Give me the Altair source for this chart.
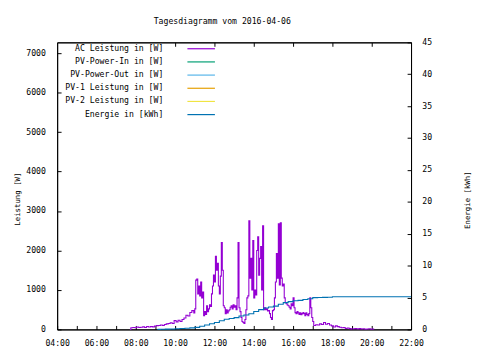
import altair as alt
import pandas as pd

# ---- data -------------------------------------------------------------
ac_times = ["07:42","07:45","07:51","07:57","08:03","08:09","08:15","08:21","08:27","08:33",
            "08:39","08:45","08:51","08:57","09:03","09:09","09:15","09:21","09:27","09:33",
            "09:39","09:45","09:51","09:57","10:03","10:09","10:15","10:21","10:27","10:33",
            "10:39","10:45","10:51","10:57","11:00","11:03","11:06","11:09","11:12","11:15",
            "11:18","11:21","11:24","11:27","11:30","11:33","11:36","11:39","11:42","11:45",
            "11:48","11:51","11:54","11:57","12:00","12:03","12:06","12:09","12:12","12:15",
            "12:18","12:21","12:24","12:27","12:30","12:33","12:36","12:39","12:42","12:45",
            "12:48","12:51","12:54","12:57","13:00","13:03","13:06","13:09","13:12","13:15",
            "13:18","13:21","13:24","13:27","13:30","13:33","13:36","13:39","13:42","13:45",
            "13:48","13:51","13:54","13:57","14:00","14:03","14:06","14:09","14:12","14:15",
            "14:18","14:21","14:24","14:27","14:30","14:33","14:36","14:39","14:42","14:45",
            "14:48","14:51","14:54","14:57","15:00","15:03","15:06","15:09","15:12","15:15",
            "15:18","15:21","15:24","15:27","15:30","15:33","15:36","15:39","15:42","15:45",
            "15:48","15:51","15:54","15:57","16:00","16:03","16:06","16:09","16:12","16:15",
            "16:18","16:21","16:24","16:27","16:30","16:33","16:36","16:39","16:42","16:45",
            "16:48","16:51","16:54","16:57","17:00","17:03","17:09","17:15","17:21","17:27",
            "17:33","17:39","17:45","17:51","17:57","18:03","18:09","18:15","18:21","18:27",
            "18:33","18:39","18:45","18:51","18:57","19:03","19:09","19:15","19:21","19:27",
            "19:33","19:39","19:45","19:51","19:57","20:03","20:06"]
ac_watts = [0, 40, 50, 40, 60, 50, 55, 65, 50, 75,
            60, 70, 65, 85, 95, 100, 110, 100, 125, 140,
            150, 170, 150, 225, 190, 230, 200, 250, 290, 360,
            340, 430, 475, 420, 520, 1250, 1275, 900, 1100, 850,
            1200, 800, 950, 350, 450, 380, 600, 450, 520, 625,
            580, 900, 1100, 1375, 1200, 1850, 1500, 1675, 1100, 900,
            1350, 2200, 1500, 600, 550, 400, 500, 420, 470, 500,
            560, 600, 520, 625, 560, 600, 500, 800, 2200, 550,
            450, 300, 200, 175, 150, 250, 500, 800, 850, 2750,
            1300, 1800, 1000, 2250, 800, 1000, 875, 2000, 2350, 1375,
            1800, 2100, 1000, 2625, 500, 550, 500, 520, 470, 475,
            400, 300, 250, 475, 500, 800, 1200, 1925, 1300, 2675,
            1125, 2700, 1300, 1100, 1150, 800, 675, 650, 620, 600,
            560, 520, 650, 600, 800, 550, 425, 400, 450, 420,
            380, 420, 375, 400, 430, 400, 350, 420, 380, 350,
            400, 800, 550, 300, 200, 100, 120, 110, 140, 125,
            175, 130, 150, 110, 90, 60, 90, 70, 55, 40,
            50, 25, 35, 20, 10, 15, 25, 10, 20, 10,
            15, 5, 10, 15, 5, 10, 0]

en_times = ["09:06","09:15","09:30","09:45","10:00","10:15","10:30","10:45","11:00","11:15",
            "11:30","11:45","12:00","12:15","12:30","12:45","13:00","13:15","13:30","13:45",
            "14:00","14:15","14:30","14:45","15:00","15:15","15:30","15:45","16:00","16:15",
            "16:30","16:45","17:00","17:15","17:30","17:45","18:00","22:00"]
en_kwh = [0.00, 0.02, 0.04, 0.06, 0.09, 0.13, 0.18, 0.24, 0.32, 0.50,
          0.68, 0.90, 1.08, 1.35, 1.60, 1.72, 1.85, 2.10, 2.25, 2.45,
          2.80, 3.10, 3.35, 3.50, 3.65, 3.95, 4.20, 4.35, 4.50, 4.55,
          4.70, 4.80, 4.98, 5.00, 5.02, 5.05, 5.12, 5.12]

series_names = ["AC Leistung in [W]", "PV-Power-In in [W]", "PV-Power-Out in [W]",
                "PV-1 Leistung in [W]", "PV-2 Leistung in [W]", "Energie in [kWh]"]
series_colors = ["#9400d3", "#009e73", "#56b4e9", "#e69f00", "#f0e442", "#0072b2"]

x_ticks = list(range(4, 23))
x_top_ticks = [10, 12, 14, 16, 18, 20]
left_ticks = [0, 1000, 2000, 3000, 4000, 5000, 6000, 7000]
right_ticks = [0, 5, 10, 15, 20, 25, 30, 35, 40, 45]


def to_hours(t):
    h, m = t.split(":")
    return int(h) + int(m) / 60.0


ac_df = pd.DataFrame({"hour": [to_hours(t) for t in ac_times],
                      "value": ac_watts, "series": series_names[0]})
en_df = pd.DataFrame({"hour": [to_hours(t) for t in en_times],
                      "value": en_kwh, "series": series_names[5]})

FONT = "DejaVu Sans Mono"
FS = 8.3
TFS = 7.5
TICK_IN = {"expr": "-4"}

color = alt.Color(
    "series:N",
    scale=alt.Scale(domain=series_names, range=series_colors),
    legend=alt.Legend(
        title=None, orient="none", legendX=141.5, legendY=1.5,
        symbolType="M-3.5,0L3.5,0", symbolSize=64, symbolStrokeWidth=1.2,
        symbolFillColor="transparent",
        labelAlign="right", labelOffset={"expr": "-43.5"}, labelFont=FONT, labelFontSize=FS,
        labelColor="black", rowPadding=4.4, padding=0, labelLimit=300,
    ),
)

x_scale = alt.Scale(domain=[4, 22], nice=False, zero=False)

x_bottom = alt.X(
    "hour:Q",
    scale=x_scale,
    axis=alt.Axis(
        values=x_ticks, title=None, grid=False, orient="bottom", labelFlush=False,
        labelExpr="datum.value % 2 == 0 ? (datum.value < 10 ? '0' : '') + datum.value + ':00' : ''",
        tickSize=TICK_IN, labelPadding=13, labelFont=FONT, labelFontSize=FS,
        labelColor="black", tickColor="black", domainColor="black",
    ),
)

x_top = alt.X(
    "hour:Q",
    scale=x_scale,
    axis=alt.Axis(
        values=x_top_ticks, title=None, grid=False, orient="top", labels=False,
        tickSize=TICK_IN, tickColor="black", domainColor="black",
    ),
)

ac = alt.Chart(ac_df).mark_line(interpolate="step-after", strokeWidth=1.1).encode(
    x=x_bottom,
    y=alt.Y(
        "value:Q",
        scale=alt.Scale(domain=[0, 7275], nice=False),
        axis=alt.Axis(
            values=left_ticks, format="d", title="Leistung [W]", grid=False, orient="left",
            tickSize=TICK_IN, labelPadding=16, labelFont=FONT, labelFontSize=FS,
            labelColor="black", tickColor="black", domainColor="black",
            titleFont=FONT, titleFontSize=TFS, titleFontWeight="normal", titleColor="black",
            titleAngle=270, titleX=-40, titleY=159, titleAlign="center", titleBaseline="middle",
        ),
    ),
    color=color,
)

en = alt.Chart(en_df).mark_line(interpolate="step-after", strokeWidth=1.1).encode(
    x=x_top,
    y=alt.Y(
        "value:Q",
        scale=alt.Scale(domain=[0, 45], nice=False),
        axis=alt.Axis(
            values=right_ticks, format="d", title="Energie [kWh]", grid=False, orient="right",
            tickSize=TICK_IN, labelPadding=15, labelFont=FONT, labelFontSize=FS,
            labelColor="black", tickColor="black", domainColor="black",
            titleFont=FONT, titleFontSize=TFS, titleFontWeight="normal", titleColor="black",
            titleAngle=270, titleX=57, titleY=160, titleAlign="center", titleBaseline="middle",
        ),
    ),
    color=color,
)

chart = (
    alt.layer(ac, en)
    .resolve_scale(y="independent", color="shared")
    .resolve_axis(x="independent")
    .properties(
        width=360, height=292,
        title=alt.TitleParams("Tagesdiagramm vom 2016-04-06", font=FONT, fontSize=FS,
                              fontWeight="normal", color="black", anchor="middle",
                              dx=-12, offset=12),
        autosize=alt.AutoSizeParams(type="none"),
        padding={"left": 50, "top": 32, "right": 62, "bottom": 18},
        background="white",
    )
    .configure_view(stroke="black", strokeWidth=1)
)

chart.save("out.html", embed_options={"renderer": "svg", "actions": False})
